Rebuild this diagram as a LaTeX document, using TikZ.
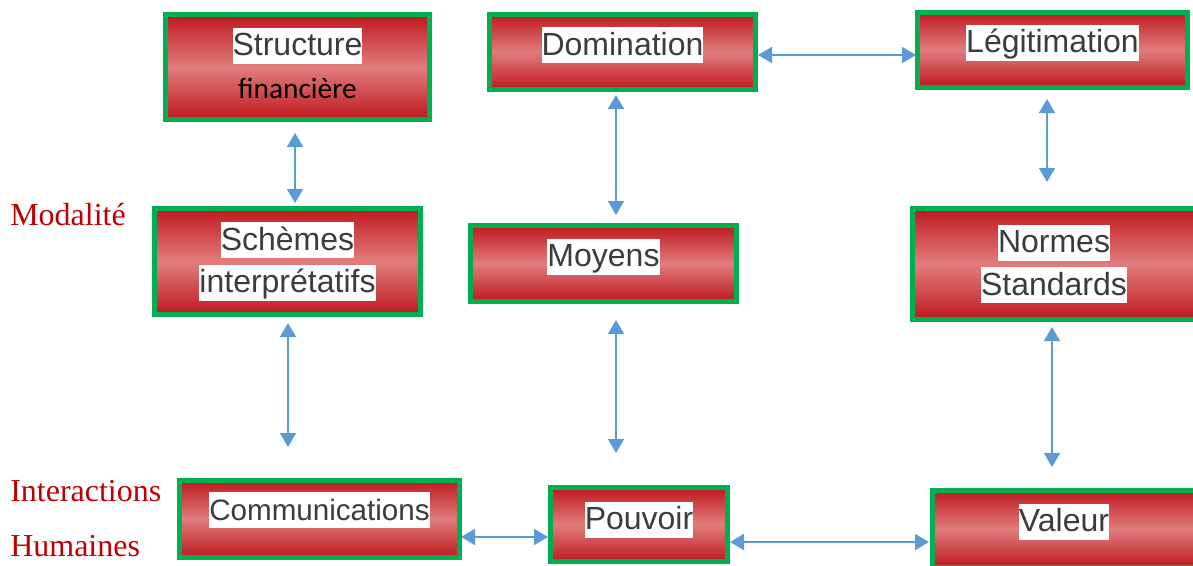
\documentclass[tikz,border=0pt]{standalone}
\usepackage{fontspec}
\usetikzlibrary{arrows.meta,calc}
\newfontfamily\boxfont{Liberation Sans}
\newfontfamily\calfont{Carlito}
\newfontfamily\serfont{Liberation Serif}
\definecolor{boxgreen}{RGB}{0,176,80}
\definecolor{darkred}{RGB}{190,24,30}
\definecolor{lightred}{RGB}{225,125,125}
\definecolor{linkblue}{RGB}{91,155,213}
\definecolor{txtgray}{RGB}{60,60,60}
\definecolor{labred}{RGB}{192,0,0}
\newcommand{\hl}[1]{{\setlength{\fboxsep}{0pt}\colorbox{white}{\rule[-6pt]{0pt}{27pt}#1}}}

\begin{document}
\begin{tikzpicture}[x=0.75pt,y=-0.75pt,
    box/.style={draw=boxgreen, line width=3.75pt, top color=darkred, bottom color=darkred,
        middle color=lightred, inner sep=0pt, align=center, text=txtgray,
        font=\boxfont\fontsize{24}{32}\selectfont},
    lift/.style={text height=21pt, text depth=#1},
    link/.style={{Triangle[length=10.5pt,width=12pt]}-{Triangle[length=10.5pt,width=12pt]},
        draw=linkblue, line width=1.3pt},
    side/.style={anchor=base west, inner sep=0pt, text=labred, font=\serfont\fontsize{24}{29}\selectfont}]
    \fill[white] (0,0) rectangle (1193,565);
    \useasboundingbox (0,0) rectangle (1193,565);

    % top row
    \node[box, minimum width=198pt, minimum height=78.75pt] (struct) at (297.5,67)
        {\hl{Structure}\\{\calfont\fontsize{22}{32}\selectfont\color{black}\rule[-6pt]{0pt}{27pt}financière}};
    \node[box, lift=16.5pt, minimum width=199.5pt, minimum height=56.25pt] (dom) at (622.5,52) {\hl{Domination}};
    \node[box, lift=17.25pt, minimum width=202.5pt, minimum height=56.25pt] (leg) at (1052.5,50) {\hl{Légitimation}};

    % middle row
    \node[box, minimum width=199.5pt, minimum height=79.5pt] (sch) at (287.5,261.5) {\hl{Schèmes}\\\hl{interprétatifs}};
    \node[box, lift=16.5pt, minimum width=199.5pt, minimum height=57pt] (moy) at (603.5,263.5) {\hl{Moyens}};
    \node[box, minimum width=212.25pt, minimum height=83.25pt] (norm) at (1054,264) {\hl{Normes}\\\hl{Standards}};

    % bottom row
    \node[box, lift=19.5pt, minimum width=210pt, minimum height=57.75pt,
        font=\boxfont\fontsize{22.2}{32}\selectfont] (comm) at (319.5,519) {\hl{Communications}};
    \node[box, lift=13.5pt, minimum width=132.75pt, minimum height=55.5pt] (pouv) at (639,524.5) {\hl{Pouvoir}};
    \node[box, lift=17.25pt, minimum width=197.25pt, minimum height=57.75pt] (val) at (1064,529) {\hl{Valeur}};

    % side labels
    \node[side] (modal) at (10,225) {Modalité};
    \node[side] (inter) at (10,501) {Interactions};
    \node[side] (hum) at (10,556) {Humaines};

    % links
    \draw[link] ($(struct.south)+(-2.5,11)$) -- ($(sch.north)+(7.5,-3)$);
    \draw[link] ($(dom.south)+(-6.5,3)$) -- ($(moy.north)+(12.5,-8)$);
    \draw[link] ($(dom.east)+(0,3)$) -- ($(leg.west)+(1,5)$);
    \draw[link] ($(leg.south)+(-5.5,9)$) -- ($(norm.north)+(-7,-24)$);
    \draw[link] ($(sch.south)+(0.5,6)$) -- ($(comm.north)+(-31.5,-31)$);
    \draw[link] ($(moy.south)+(12.5,16)$) -- ($(pouv.north)+(-23,-32)$);
    \draw[link] ($(norm.south)+(-2,5)$) -- ($(val.north)+(-12,-21)$);
    \draw[link] ($(comm.east)+(-1,18)$) -- ($(pouv.west)+(0,12.5)$);
    \draw[link] ($(pouv.east)+(0,17.5)$) -- ($(val.west)+(-1,13)$);
\end{tikzpicture}
\end{document}
